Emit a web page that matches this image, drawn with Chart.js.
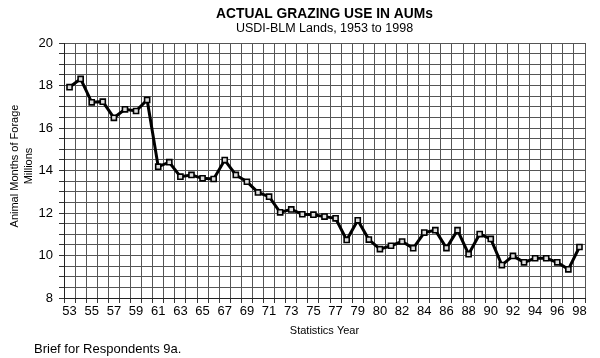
<!DOCTYPE html>
<html>
<head>
<meta charset="utf-8">
<script src="https://cdn.jsdelivr.net/npm/chart.js@4.4.0/dist/chart.umd.min.js"></script>
<style>
  html, body { margin: 0; padding: 0; background: #fff; }
  #wrap { width: 600px; height: 358px; position: relative; }
</style>
</head>
<body>
<div id="wrap"><canvas id="c" width="600" height="358"></canvas></div>
<script>
// ---- data ----
const categories = ['53','54','55','56','57','58','59','60','61','62','63','64','65','66','67','68','69','70','71','72','73','74','75','76','77','78','79','79/80','80','81','82','83','84','85','86','87','88','89','90','91','92','93','94','95','96','97','98'];
const aumMillions = [17.92,18.31,17.21,17.24,16.48,16.88,16.80,17.32,14.18,14.39,13.71,13.79,13.63,13.60,14.49,13.79,13.47,12.97,12.77,12.03,12.17,11.94,11.92,11.83,11.75,10.73,11.66,10.75,10.30,10.46,10.66,10.34,11.08,11.19,10.35,11.19,10.06,11.01,10.78,9.55,9.98,9.68,9.87,9.87,9.68,9.35,10.40];
const yTickLabels = [8,10,12,14,16,18,20];

const titleText = 'ACTUAL GRAZING USE IN AUMs';
const subtitleText = 'USDI-BLM Lands, 1953 to 1998';
const xTitleText = 'Statistics Year';
const yTitleLines = ['Animal Months of Forage', 'Millions'];
const footText = 'Brief for Respondents 9a.';

const FONT = '"Liberation Sans", Arial, sans-serif';

const textPlugin = {
  id: 'texts',
  afterDraw(chart) {
    const ctx = chart.ctx;
    const ca = chart.chartArea;
    const cx = (ca.left + ca.right) / 2;
    ctx.save();
    ctx.fillStyle = '#000';
    ctx.textAlign = 'center';
    ctx.textBaseline = 'middle';
    ctx.font = 'bold 13.8px ' + FONT;
    ctx.fillText(titleText, cx, 14);
    ctx.font = '12.5px ' + FONT;
    ctx.fillText(subtitleText, cx, 29);
    ctx.font = '11px ' + FONT;
    ctx.fillText(xTitleText, cx, 331);
    ctx.textAlign = 'left';
    ctx.font = '13px ' + FONT;
    ctx.fillText(footText, 34, 349);
    ctx.translate(0, 166);
    ctx.rotate(-Math.PI / 2);
    ctx.textAlign = 'center';
    ctx.font = '11px ' + FONT;
    ctx.fillText(yTitleLines[0], 0, 15);
    ctx.fillText(yTitleLines[1], 0, 29);
    ctx.restore();
  }
};

new Chart(document.getElementById('c'), {
  type: 'line',
  data: {
    labels: categories,
    datasets: [{
      data: aumMillions,
      borderColor: '#000',
      borderWidth: 3,
      tension: 0,
      pointStyle: 'rect',
      pointRadius: 3.6,
      pointBorderWidth: 1.6,
      pointBorderColor: '#000',
      pointBackgroundColor: '#ddd'
    }]
  },
  options: {
    responsive: false,
    animation: false,
    devicePixelRatio: 1,
    layout: { padding: { left: 0, right: 15, top: 43, bottom: 0 } },
    plugins: { legend: { display: false }, tooltip: { enabled: false } },
    scales: {
      x: {
        type: 'category',
        offset: true,
        grid: { offset: true, color: '#555', lineWidth: 1, tickLength: 5, tickColor: '#333' },
        border: { color: '#222', width: 1 },
        ticks: {
          autoSkip: false, maxRotation: 0, minRotation: 0, padding: 1,
          color: '#000', font: { family: FONT, size: 13 },
          callback: (v, i) => (i % 2 === 0 ? categories[i] : '')
        },
        afterFit: s => { s.height = 60; }
      },
      y: {
        min: 8, max: 20,
        grid: { color: '#555', lineWidth: 1, tickLength: 5, tickColor: '#333' },
        border: { color: '#222', width: 1 },
        ticks: {
          stepSize: 0.5, autoSkip: false, padding: 6,
          color: '#000', font: { family: FONT, size: 13 },
          callback: v => (yTickLabels.includes(v) ? String(v) : '')
        },
        afterFit: s => { s.width = 64; }
      }
    }
  },
  plugins: [textPlugin]
});
</script>
</body>
</html>
